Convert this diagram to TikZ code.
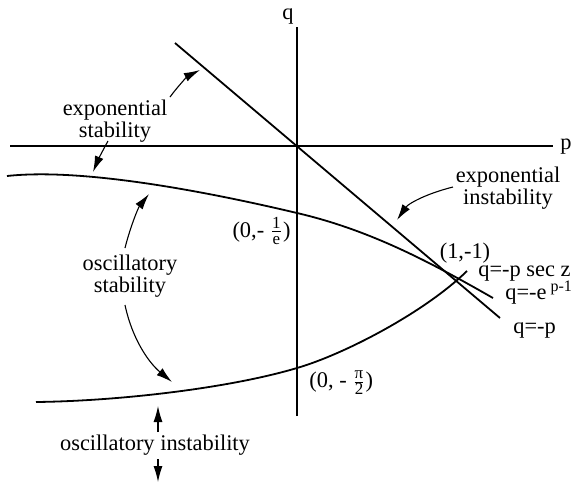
\documentclass[tikz,border=0pt]{standalone}
\usepackage{amsmath}
\usepackage{fontspec}
\setmainfont{Liberation Serif}
\usetikzlibrary{arrows.meta}
\newcommand{\smfrac}[2]{$\genfrac{}{}{0.4pt}{}{\mbox{\rmfamily\fontsize{8.5}{8.5}\selectfont #1}}{\mbox{\rmfamily\fontsize{8.5}{8.5}\selectfont #2}}$}
\begin{document}
\begin{tikzpicture}[x=0.5pt,y=-0.5pt,
  curve/.style={line width=0.9pt},
  axis/.style={line width=0.8pt},
  pointer/.style={line width=0.55pt,-{Latex[length=8pt,width=4.5pt]}},
  lbl/.style={font=\rmfamily\fontsize{11.2}{11}\selectfont,inner sep=0pt,align=center},
  every node/.style={inner sep=0pt}]
\useasboundingbox (0,0) rectangle (574,484);
% axes
\coordinate (qtop) at (297,27);
\coordinate (qbot) at (297,416);
\coordinate (pl) at (10,146);
\coordinate (pr) at (553,146);
\draw[axis] (qbot) -- (qtop);
\draw[axis] (pl) -- (pr);
\node[lbl] (qlab) at (288,16) {q};
\node[lbl] (plab) at (566,147) {p};
% line q=-p
\coordinate (lA) at (175,43);
\coordinate (lB) at (500,318);
\draw[curve] (lA) -- (lB);
% q = -e^{p-1}
\coordinate (e0) at (7,176);
\coordinate (e1) at (297,213);
\coordinate (e2) at (493,298);
\draw[curve] (e0) .. controls (80,168) and (200,190) .. (e1)
                  .. controls (370,230) and (430,262) .. (e2);
% q = -p sec z
\coordinate (s0) at (36,402);
\coordinate (s1) at (297,368);
\coordinate (s2) at (467,271);
\draw[curve] (s0) .. controls (120,401) and (230,388) .. (s1)
                  .. controls (345,354) and (425,312) .. (s2);
% labels
\node[lbl] (es) at (115,121) {exponential\\stability};
\node[lbl] (ei) at (508,188) {exponential\\instability};
\node[lbl] (os) at (130,276) {oscillatory\\stability};
\node[lbl] (oi) at (155,445) {oscillatory instability};
\node[lbl,anchor=east] (pe) at (291,231) {(0,- \smfrac{1}{e})};
\node[lbl] (pm) at (465,253) {(1,-1)};
\node[lbl,anchor=west] (lsec) at (478,273) {q=-p sec z};
\node[lbl,anchor=west] (lexp) at (505,293) {q=-e\raisebox{4pt}{\fontsize{8}{8}\selectfont\ p-1}};
\node[lbl,anchor=west] (lp) at (513,330) {q=-p};
\node[lbl,anchor=west] (ppi) at (309,383) {(0, - \smfrac{π}{2})};
% arrow targets
\coordinate (t1) at (200,70);
\coordinate (t2) at (93,172);
\coordinate (t3) at (149,194);
\coordinate (t4) at (172,382);
\coordinate (t5) at (397,220);
\coordinate (t6) at (158,406);
\coordinate (t7) at (158,482);
% arrows
\draw[pointer] (170,97) .. controls (178,86) and (188,76) .. (t1);
\draw[pointer] (108,141) .. controls (103,150) and (98,160) .. (t2);
\draw[pointer] (125,248) .. controls (130,228) and (138,208) .. (t3);
\draw[pointer] (125,305) .. controls (132,338) and (148,362) .. (t4);
\draw[pointer] (453,187) .. controls (425,194) and (408,204) .. (t5);
\draw[pointer] (158,432) -- (t6);
\draw[pointer] (158,459) -- (t7);
\end{tikzpicture}
\end{document}
